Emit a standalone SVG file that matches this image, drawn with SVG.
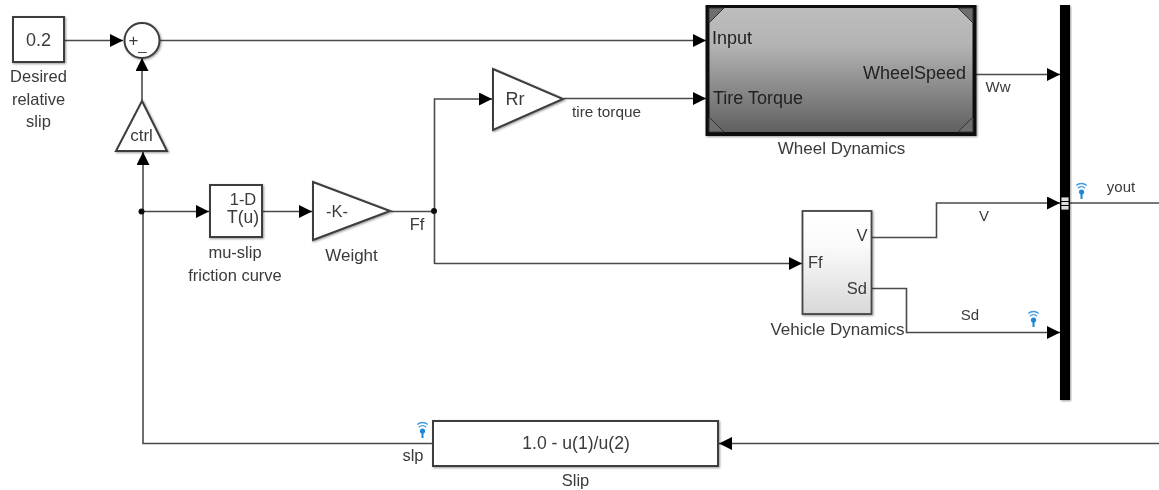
<svg xmlns="http://www.w3.org/2000/svg" width="1159" height="490" viewBox="0 0 1159 490">
<style>
text{font-family:"Liberation Sans",Arial,sans-serif;font-size:16.500px;fill:#3a3a3a;text-anchor:middle}
.s{text-anchor:start}.e{text-anchor:end}
.n{font-size:15px}
.t{font-size:18px;fill:#222}
.b{fill:#fff;stroke:#3c3c3c;stroke-width:2;filter:url(#sh)}
.c{fill:none;stroke:#4a4a4a;stroke-width:1.6}
.w{fill:#1b87d6}.wl{fill:none;stroke:#3b9bdf;stroke-width:1.300}
</style>
<defs>
<marker id="a" markerUnits="userSpaceOnUse" markerWidth="14" markerHeight="13" refX="13" refY="6.500" orient="auto"><path d="M0 0L13 6.500L0 13z" fill="#000"/></marker>
<linearGradient id="wd" x1="0" y1="0" x2="0" y2="1"><stop offset="0" stop-color="#bdbdbd"/><stop offset=".3" stop-color="#b4b4b4"/><stop offset="1" stop-color="#5e5e5e"/></linearGradient>
<linearGradient id="vd" x1="0" y1="0" x2="0" y2="1"><stop offset="0" stop-color="#fff"/><stop offset=".35" stop-color="#fafafa"/><stop offset="1" stop-color="#d8d8d8"/></linearGradient>
<filter id="sh" x="-10%" y="-10%" width="125%" height="125%"><feDropShadow dx="1" dy="1" stdDeviation="1" flood-color="#000" flood-opacity=".4"/></filter>
<filter id="bl" x="0" y="0" width="100%" height="100%"><feGaussianBlur stdDeviation="0.55"/></filter>
<g id="wifi"><path class="w" d="M-1 0h2v8h-2z"/><circle class="w" cy="1" r="2.600"/><path class="wl" d="M-3.600-2.800a5 5 0 0 1 7.200 0M-5.200-5.600a8 8 0 0 1 10.400 0"/></g>
</defs>
<rect width="1159" height="490" fill="#fff"/>
<g filter="url(#bl)">
<g id="connectors">
<path class="c" d="M64 40.500H123" marker-end="url(#a)"/>
<path class="c" d="M160 40.500H706" marker-end="url(#a)"/>
<path class="c" d="M142 100V58" marker-end="url(#a)"/>
<path class="c" d="M718 443.500H143V152" marker-end="url(#a)"/>
<path class="c" d="M142 211.500H209" marker-end="url(#a)"/>
<path class="c" d="M263 211.500H312" marker-end="url(#a)"/>
<path class="c" d="M391 211.500H434.500"/>
<path class="c" d="M434.500 264V99H492" marker-end="url(#a)"/>
<path class="c" d="M434.500 263.500H802" marker-end="url(#a)"/>
<path class="c" d="M564 98.500H706" marker-end="url(#a)"/>
<path class="c" d="M975 74.500H1060" marker-end="url(#a)"/>
<path class="c" d="M872 237.500H936.500V203H1060" marker-end="url(#a)"/>
<path class="c" d="M872 288.500H906.500V332.500H1060" marker-end="url(#a)"/>
<path class="c" d="M1070 203H1159"/>
<path class="c" d="M1159 443.500H719" marker-end="url(#a)"/>
<circle cx="141.500" cy="211.500" r="3" fill="#111"/>
<circle cx="434" cy="211" r="3" fill="#111"/>
</g>
<g id="desired-slip"><rect class="b" x="13" y="17" width="51" height="45"/><text x="38.500" y="46" style="font-size:18px">0.2</text><text x="38.500" y="82">Desired</text><text x="38.500" y="105">relative</text><text x="38.500" y="127">slip</text></g>
<g id="sum"><circle class="b" cx="142" cy="40.500" r="17.500"/><text x="133.500" y="46" style="font-size:17px">+</text><text x="142.500" y="50" style="font-size:15px">_</text></g>
<g id="ctrl"><path class="b" d="M142 101L167 151H116z"/><text x="141.500" y="141" style="font-size:17px">ctrl</text></g>
<g id="mu-slip"><rect class="b" x="210" y="185" width="52" height="52"/><text x="243" y="205">1-D</text><text x="243" y="223" style="font-size:17.500px">T(u)</text><text x="235" y="258">mu-slip</text><text x="235" y="281">friction curve</text></g>
<g id="weight"><path class="b" d="M313 182L390 211L313 240z"/><text x="337" y="217">-K-</text><text x="351.500" y="261" style="font-size:17px">Weight</text><text x="417" y="230">Ff</text></g>
<g id="rr"><path class="b" d="M493 69L563 99L493 130z"/><text x="515" y="105" style="font-size:18px">Rr</text><text x="606.500" y="117" style="font-size:15.300px">tire torque</text></g>
<g id="wheel-dynamics"><rect x="707.500" y="6" width="267" height="128" fill="url(#wd)" stroke="#111" stroke-width="4" filter="url(#sh)"/>
<path d="M709 8h15L709 23zM973 8h-15L973 23zM709 132h15L709 117zM973 132h-15L973 117z" fill="#6e6e6e" stroke="#333"/>
<text class="s t" x="712" y="44">Input</text><text class="s t" x="713" y="104">Tire Torque</text><text class="e t" x="966" y="79">WheelSpeed</text><text x="841.500" y="154" style="font-size:17px">Wheel Dynamics</text><text x="998" y="92" class="n">Ww</text></g>
<g id="vehicle-dynamics"><rect x="802.500" y="211" width="69" height="103" fill="url(#vd)" stroke="#444" stroke-width="1.800" filter="url(#sh)"/><text class="s" x="808" y="268">Ff</text><text x="862" y="241">V</text><text class="e" x="867" y="294">Sd</text><text x="837.500" y="335" style="font-size:17px">Vehicle Dynamics</text><text x="984" y="221" class="n">V</text><text x="970" y="320" class="n">Sd</text><use href="#wifi" x="1033.500" y="319"/></g>
<g id="mux"><rect x="1060" y="5" width="10" height="395" fill="#000" filter="url(#sh)"/><rect x="1061" y="197" width="8" height="13" fill="#ddd" stroke="#000" stroke-width=".8"/><path d="M1061 201.500h8M1061 205.500h8" stroke="#000"/><use href="#wifi" x="1081.500" y="191"/><text x="1121" y="192" class="n">yout</text></g>
<g id="slip"><rect class="b" x="433" y="421" width="285" height="45"/><text x="576" y="449" style="font-size:17.600px">1.0 - u(1)/u(2)</text><text x="575.500" y="486">Slip</text><text x="413" y="461">slp</text><use href="#wifi" x="422.500" y="430"/></g>
</g>
</svg>
